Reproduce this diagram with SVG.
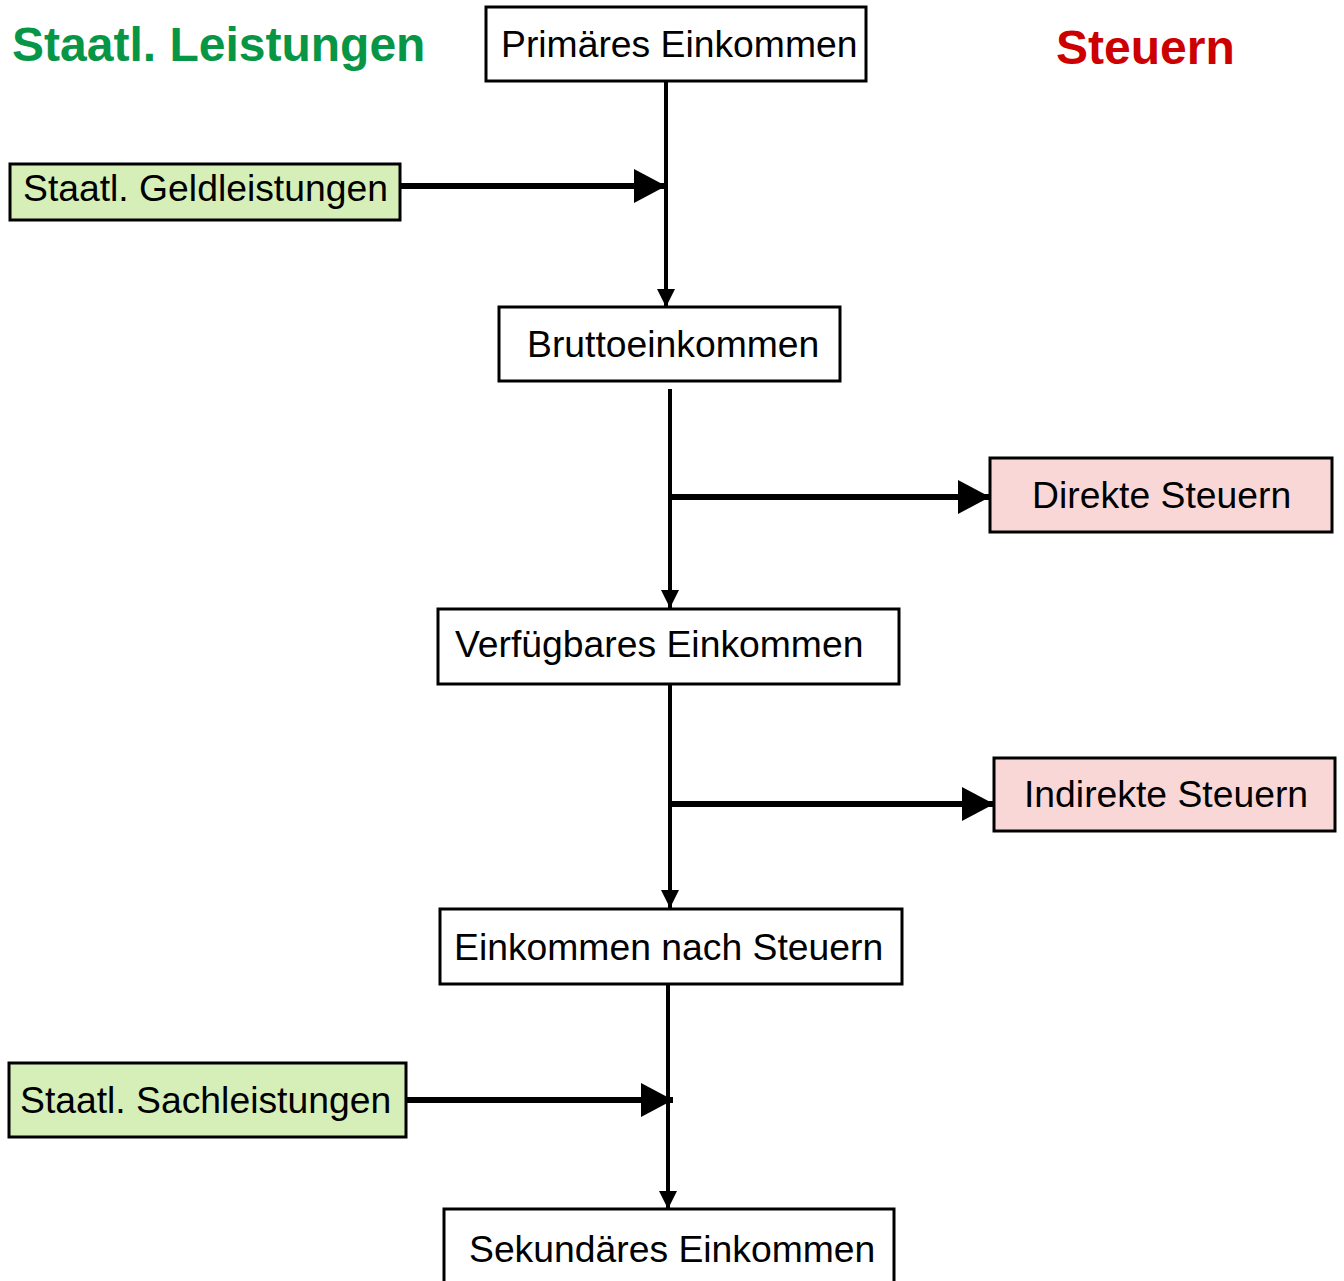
<svg xmlns="http://www.w3.org/2000/svg" width="1344" height="1281" viewBox="0 0 1344 1281">
<style>
.box{fill:#ffffff;stroke:#000;stroke-width:3}
.green{fill:#d6efb8;stroke:#000;stroke-width:3}
.pink{fill:#f9d7d7;stroke:#000;stroke-width:3}
.t{font-family:"Liberation Sans",Arial,sans-serif;font-size:37.3px;fill:#000}
.title{font-family:"Liberation Sans",Arial,sans-serif;font-size:48px;font-weight:bold}
.v{stroke:#000;stroke-width:4;fill:none}
.h{stroke:#000;stroke-width:6;fill:none}
</style>
<defs>
<marker id="big" markerUnits="userSpaceOnUse" markerWidth="32" markerHeight="34" refX="32" refY="17" orient="auto">
<path d="M0,0 L32,17 L0,34 z" fill="#000"/>
</marker>
<marker id="small" markerUnits="userSpaceOnUse" markerWidth="18" markerHeight="18" refX="18" refY="9" orient="auto">
<path d="M0,0 L18,9 L0,18 z" fill="#000"/>
</marker>
</defs>
<rect width="1344" height="1281" fill="#fff"/>
<text class="title" x="12" y="61" fill="#079546">Staatl. Leistungen</text>
<text class="title" x="1056" y="64" fill="#cc0000">Steuern</text>
<g id="connectors">
<path class="v" d="M666,81 V307" marker-end="url(#small)"/>
<path class="h" d="M400,186 H666" marker-end="url(#big)"/>
<path class="v" d="M670,389 V608" marker-end="url(#small)"/>
<path class="h" d="M670,497 H990" marker-end="url(#big)"/>
<path class="v" d="M670,684 V908" marker-end="url(#small)"/>
<path class="h" d="M670,804 H994" marker-end="url(#big)"/>
<path class="v" d="M668,984 V1209" marker-end="url(#small)"/>
<path class="h" d="M406,1100 H673" marker-end="url(#big)"/>
</g>
<g id="primaeres">
<rect class="box" x="486" y="7" width="380" height="74"/>
<text class="t" x="501" y="57">Primäres Einkommen</text>
</g>
<g id="geldleistungen">
<rect class="green" x="10" y="164" width="390" height="56"/>
<text class="t" x="23" y="201">Staatl. Geldleistungen</text>
</g>
<g id="brutto">
<rect class="box" x="499" y="307" width="341" height="74"/>
<text class="t" x="527" y="357">Bruttoeinkommen</text>
</g>
<g id="direkte">
<rect class="pink" x="990" y="458" width="342" height="74"/>
<text class="t" x="1032" y="508">Direkte Steuern</text>
</g>
<g id="verfuegbares">
<rect class="box" x="438" y="609" width="461" height="75"/>
<text class="t" x="455" y="657">Verfügbares Einkommen</text>
</g>
<g id="indirekte">
<rect class="pink" x="994" y="758" width="341" height="73"/>
<text class="t" x="1024" y="807">Indirekte Steuern</text>
</g>
<g id="nachsteuern">
<rect class="box" x="440" y="909" width="462" height="75"/>
<text class="t" x="454" y="960">Einkommen nach Steuern</text>
</g>
<g id="sachleistungen">
<rect class="green" x="9" y="1063" width="397" height="74"/>
<text class="t" x="20" y="1113">Staatl. Sachleistungen</text>
</g>
<g id="sekundaeres">
<rect class="box" x="444" y="1209" width="450" height="80"/>
<text class="t" x="469" y="1262">Sekundäres Einkommen</text>
</g>
</svg>
